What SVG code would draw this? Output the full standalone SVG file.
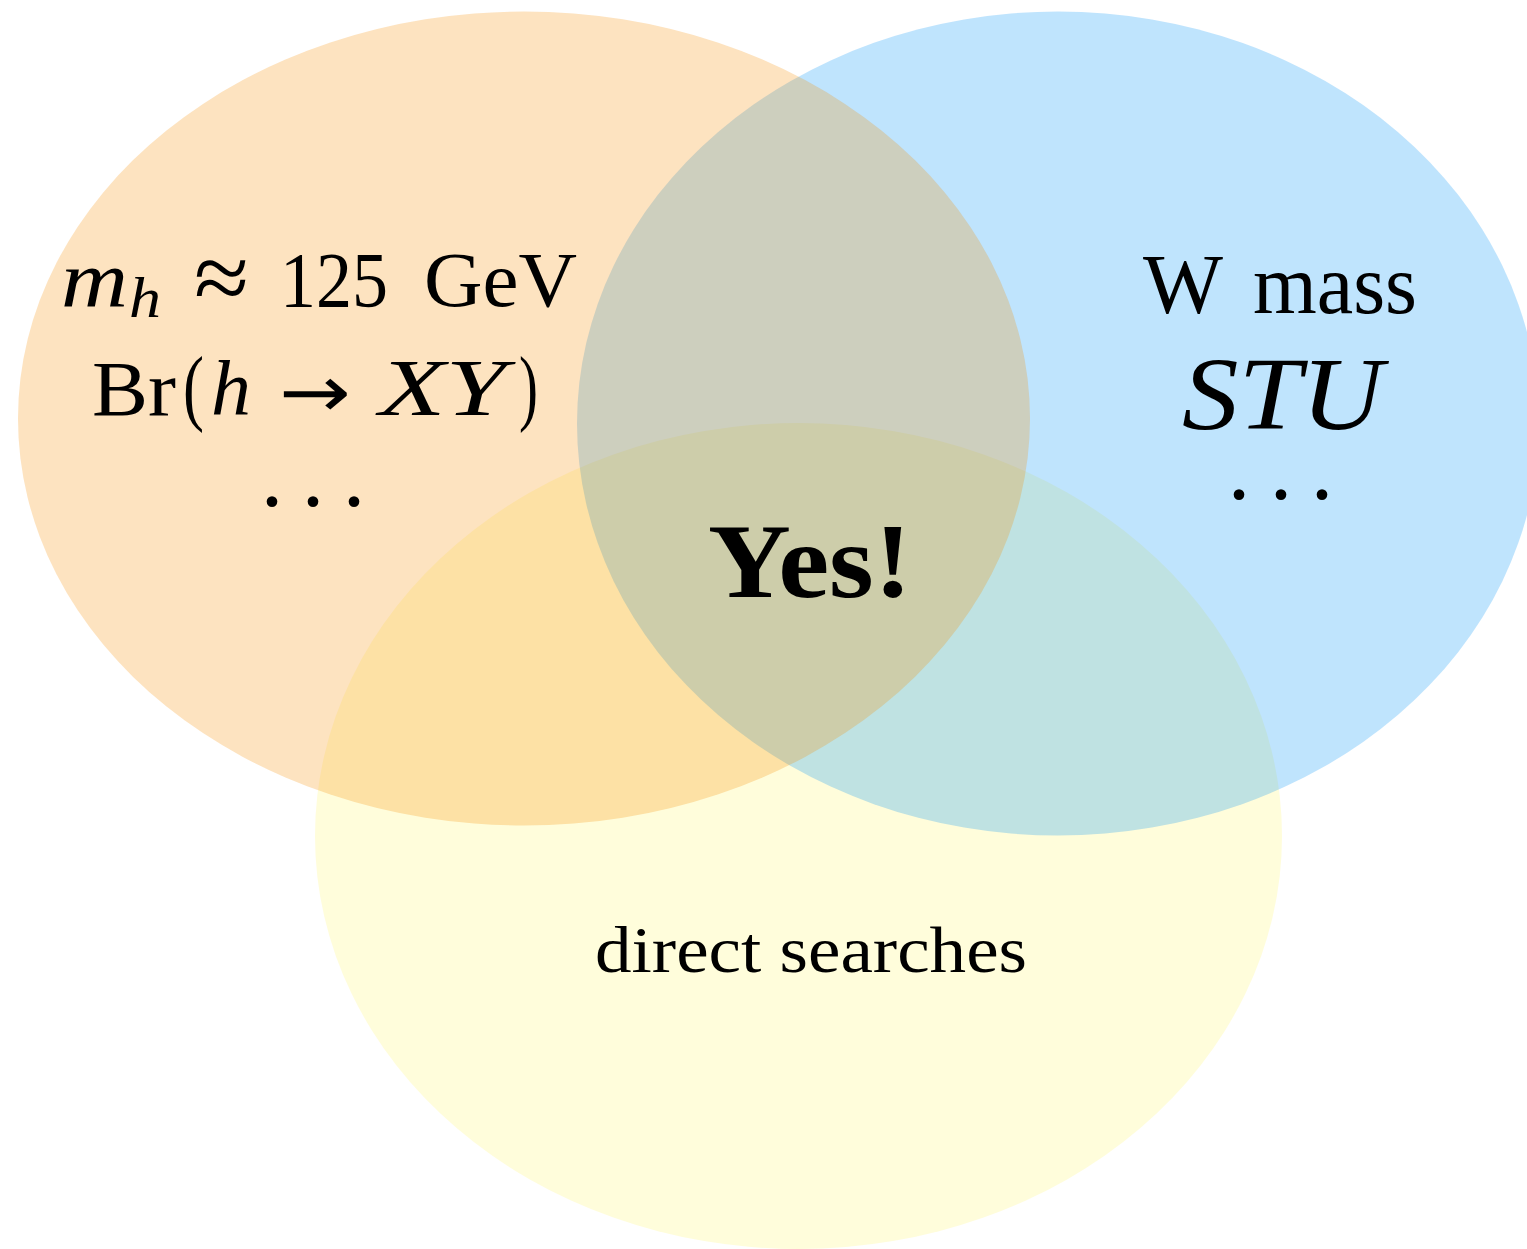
<svg xmlns="http://www.w3.org/2000/svg" width="1527" height="1249" viewBox="0 0 1527 1249">
<style>
  .set { fill-opacity: 0.25; stroke: none; }
  .rm { font-family: "Liberation Serif", "DejaVu Serif", serif; fill: #000; }
  .it { font-family: "Liberation Serif", "DejaVu Serif", serif; font-style: italic; fill: #000; }
  .bf { font-family: "Liberation Serif", "DejaVu Serif", serif; font-weight: bold; fill: #000; }
  .sym { font-family: "DejaVu Sans", "Liberation Sans", sans-serif; fill: #000; }
  .dots { font-family: "Liberation Serif", "DejaVu Serif", serif; fill: #000; text-anchor: middle; }
</style>
<rect x="0" y="0" width="1527" height="1249" fill="#ffffff"/>
<g id="set-direct">
  <ellipse class="set" cx="798.5" cy="836" rx="483.5" ry="413" fill="rgb(255,247,110)"/>
</g>
<g id="set-electroweak">
  <ellipse class="set" cx="1058" cy="423.5" rx="481" ry="412" fill="rgb(0,147,247)"/>
</g>
<g id="set-higgs">
  <ellipse class="set" cx="524" cy="418.5" rx="506" ry="407" fill="rgb(247,143,3)"/>
</g>
<g id="connectors"></g>
<g id="label-higgs">
  <text class="it" x="61" y="306" font-size="80" textLength="67" lengthAdjust="spacingAndGlyphs">m</text>
  <text class="it" x="129" y="317" font-size="56" textLength="32" lengthAdjust="spacingAndGlyphs">h</text>
  <text class="rm" x="194" y="310" font-size="96" textLength="55" lengthAdjust="spacingAndGlyphs">≈</text>
  <text class="rm" x="280" y="306" font-size="78" textLength="108" lengthAdjust="spacingAndGlyphs">125</text>
  <text class="rm" x="424" y="306" font-size="78" textLength="153" lengthAdjust="spacingAndGlyphs">GeV</text>
  <text class="rm" x="92" y="415" font-size="78" textLength="84" lengthAdjust="spacingAndGlyphs">Br</text>
  <text class="rm" x="183" y="415" font-size="84" textLength="21" lengthAdjust="spacingAndGlyphs">(</text>
  <text class="it" x="211" y="415" font-size="78" textLength="40" lengthAdjust="spacingAndGlyphs">h</text>
  <text class="sym" x="279" y="417" font-size="72" textLength="72" lengthAdjust="spacingAndGlyphs">→</text>
  <text class="it" x="379" y="415" font-size="80" textLength="127" lengthAdjust="spacingAndGlyphs">XY</text>
  <text class="rm" x="519" y="415" font-size="84" textLength="19" lengthAdjust="spacingAndGlyphs">)</text>
  <text class="dots" x="272 313 354" y="506" font-size="90">...</text>
</g>
<g id="label-electroweak">
  <text class="rm" x="1143" y="313" font-size="84" textLength="80" lengthAdjust="spacingAndGlyphs">W</text>
  <text class="rm" x="1253" y="313" font-size="84" textLength="164" lengthAdjust="spacingAndGlyphs">mass</text>
  <text class="it" x="1182" y="429" font-size="104" textLength="201" lengthAdjust="spacingAndGlyphs">STU</text>
  <text class="dots" x="1239 1281 1322" y="499" font-size="90">...</text>
</g>
<g id="label-direct">
  <text class="rm" x="595" y="972" font-size="66" textLength="432" lengthAdjust="spacingAndGlyphs">direct searches</text>
</g>
<g id="label-yes">
  <text class="bf" x="708" y="597" font-size="106" textLength="204" lengthAdjust="spacingAndGlyphs">Yes!</text>
</g>
</svg>
